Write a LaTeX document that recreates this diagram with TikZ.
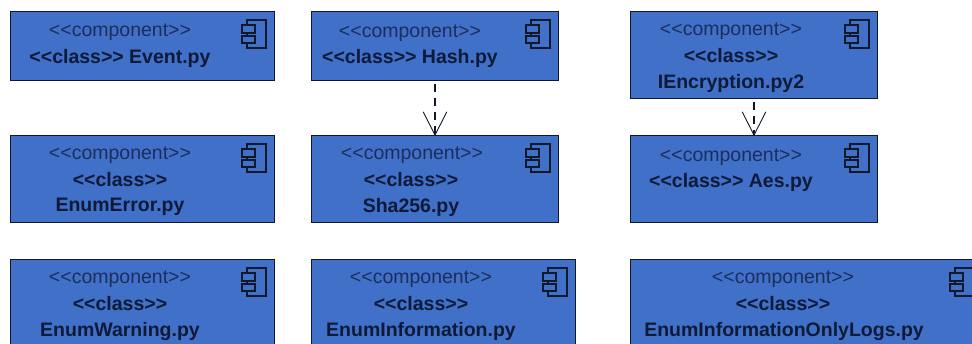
\documentclass[tikz,border=0pt]{standalone}
\usepackage{fontspec}
\setmainfont{Liberation Sans}
\usetikzlibrary{arrows.meta}
\definecolor{boxfill}{HTML}{4070C8}
\definecolor{boxline}{HTML}{10182A}
\definecolor{txt}{HTML}{0E1A38}
\definecolor{txtlight}{HTML}{1C2E5C}
\tikzset{
  x=1pt,y=-1pt,
  compbox/.style={draw=boxline,fill=boxfill,line width=1.4pt,inner sep=0pt,outer sep=0pt},
  stereo/.style={text=txtlight,font=\fontsize{19.5}{19.5}\selectfont,inner sep=0pt,anchor=center,yshift=-2pt},
  cname/.style={text=txt,font=\fontsize{19.5}{19.5}\selectfont\bfseries,inner sep=0pt,anchor=center,yshift=-1pt},
  iconline/.style={draw=boxline,line width=1.4pt},
  dep/.style={draw=boxline,line width=1.7pt,dash pattern=on 8pt off 6pt,dash phase=-3pt,
    -{Straight Barb[length=23pt,width=22pt,line width=0.9pt,angle'=54,round,sep=0pt]}},
}
% box: name, left, top, right, bottom
\newcommand{\cbox}[5]{%
  \node[compbox,minimum width=#4pt-#2pt,minimum height=#5pt-#3pt,anchor=north west] (#1) at (#2+0.5,#3+0.5) {};
  \draw[iconline] (#4-27,#3+9) rectangle (#4-8,#3+37);
  \draw[iconline,fill=boxfill] (#4-32,#3+14) rectangle (#4-19,#3+22);
  \draw[iconline,fill=boxfill] (#4-32,#3+25) rectangle (#4-19,#3+32);
}
\begin{document}
\begin{tikzpicture}
\useasboundingbox (0,0) rectangle (972,343);
\clip (0,0) rectangle (972,343);
\cbox{event}{10}{11}{274}{80}
\cbox{hash}{311}{11}{558}{80}
\cbox{ienc}{630}{11}{877}{98}
\cbox{eerr}{10}{135}{274}{222}
\cbox{sha}{311}{135}{558}{222}
\cbox{aes}{630}{135}{877}{222}
\cbox{ewarn}{10}{259}{274}{346}
\cbox{einfo}{311}{259}{575}{346}
\cbox{elogs}{630}{259}{982}{346}

\node[stereo] (t1a) at (120,30) {<{}<component>{}>};
\node[cname] (t1b) at (120,57) {<{}<class>{}> Event.py};

\node[stereo] (t2a) at (410,31) {<{}<component>{}>};
\node[cname] (t2b) at (410,57) {<{}<class>{}> Hash.py};

\node[stereo] (t3a) at (731,29) {<{}<component>{}>};
\node[cname] (t3b) at (731,55) {<{}<class>{}>};
\node[cname] (t3c) at (731,82) {IEncryption.py2};

\node[stereo] (t4a) at (120,153) {<{}<component>{}>};
\node[cname] (t4b) at (120,179) {<{}<class>{}>};
\node[cname] (t4c) at (120,206) {EnumError.py};

\node[stereo] (t5a) at (412,153) {<{}<component>{}>};
\node[cname] (t5b) at (411,179) {<{}<class>{}>};
\node[cname] (t5c) at (411,206) {Sha256.py};

\node[stereo] (t6a) at (731,155) {<{}<component>{}>};
\node[cname] (t6b) at (731,181) {<{}<class>{}> Aes.py};

\node[stereo] (t7a) at (120,277) {<{}<component>{}>};
\node[cname] (t7b) at (120,303) {<{}<class>{}>};
\node[cname] (t7c) at (120,330) {EnumWarning.py};

\node[stereo] (t8a) at (421,277) {<{}<component>{}>};
\node[cname] (t8b) at (421,303) {<{}<class>{}>};
\node[cname] (t8c) at (421,330) {EnumInformation.py};

\node[stereo] (t9a) at (783,277) {<{}<component>{}>};
\node[cname] (t9b) at (783,303) {<{}<class>{}>};
\node[cname] (t9c) at (784,330) {EnumInformationOnlyLogs.py};

\draw[dep] (hash.south) -- (sha.north);
\draw[dep] (ienc.south) -- (aes.north);
\end{tikzpicture}
\end{document}
